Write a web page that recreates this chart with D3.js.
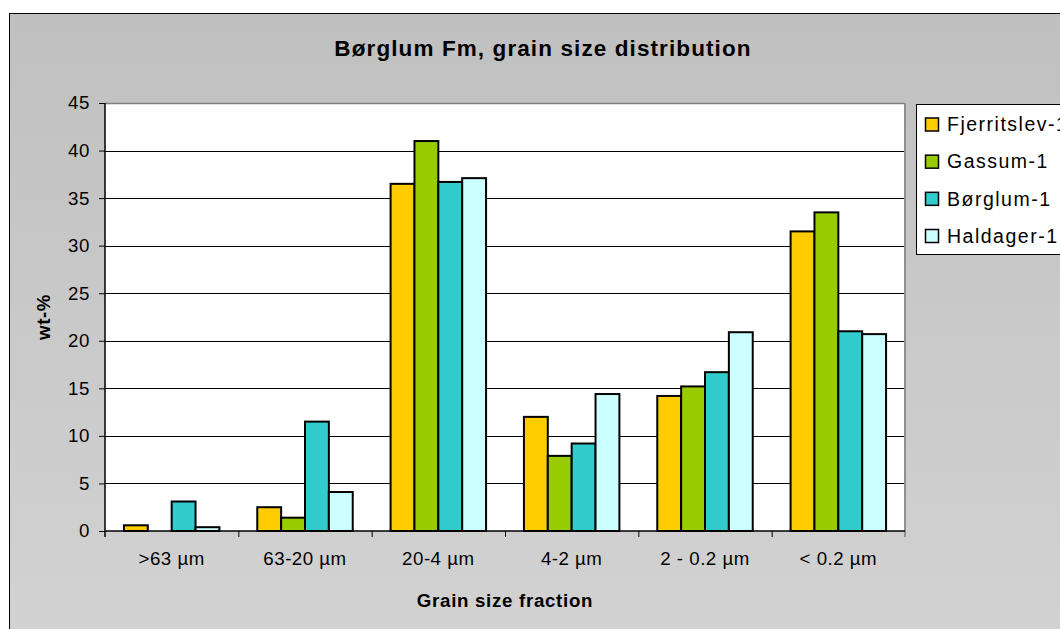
<!DOCTYPE html>
<html>
<head>
<meta charset="utf-8">
<script src="https://cdn.jsdelivr.net/npm/d3@7"></script>
<style>
  html, body { margin: 0; padding: 0; background: #ffffff; }
  svg { display: block; font-family: "Liberation Sans", Arial, sans-serif; }
</style>
</head>
<body>
<svg id="chart" width="1060" height="629"></svg>
<script>
// Grain size fractions (x categories)
const categories = [">63 µm", "63-20 µm", "20-4 µm", "4-2 µm", "2 - 0.2 µm", "< 0.2 µm"];

// Wells (series) and their colours
const seriesNames = ["Fjerritslev-1", "Gassum-1", "Børglum-1", "Haldager-1"];
const seriesColors = ["#FFCC00", "#99CC00", "#33CCCC", "#CCFFFF"];

// wt-% per fraction, one array per well
const fjerritslev = [0.6, 2.5, 36.5, 12.0, 14.2, 31.5];
const gassum      = [0.0, 1.4, 41.0, 7.9, 15.2, 33.5];
const borglum     = [3.1, 11.5, 36.7, 9.2, 16.7, 21.0];
const haldager    = [0.4, 4.1, 37.1, 14.4, 20.9, 20.7];

// Y axis ticks
const yTicks = [0, 5, 10, 15, 20, 25, 30, 35, 40, 45];

const seriesValues = [fjerritslev, gassum, borglum, haldager];

const svg = d3.select("#chart");
const W = 1060, H = 629;
const plot = { left: 105, right: 905, top: 103, bottom: 531 };

// Chart background with a soft vertical gradient
const defs = svg.append("defs");
const grad = defs.append("linearGradient")
  .attr("id", "bg").attr("x1", 0).attr("y1", 0).attr("x2", 0).attr("y2", 1);
grad.append("stop").attr("offset", "0%").attr("stop-color", "#c0c0c0");
grad.append("stop").attr("offset", "100%").attr("stop-color", "#d3d3d3");

svg.append("rect")
  .attr("x", 9.5).attr("y", 13.5)
  .attr("width", W + 20).attr("height", H + 20)
  .attr("fill", "url(#bg)")
  .attr("stroke", "#000").attr("stroke-width", 1);

// Scales
const x0 = d3.scaleBand()
  .domain(categories)
  .range([plot.left, plot.right])
  .paddingInner(0.284)
  .paddingOuter(0.142);

const x1 = d3.scaleBand()
  .domain(seriesNames)
  .range([0, x0.bandwidth()]);

const y = d3.scaleLinear()
  .domain([0, 45])
  .range([plot.bottom, plot.top]);

// Plot area
svg.append("rect")
  .attr("x", plot.left).attr("y", plot.top)
  .attr("width", plot.right - plot.left).attr("height", plot.bottom - plot.top)
  .attr("fill", "#ffffff");

// Gridlines
svg.append("g")
  .selectAll("line")
  .data(yTicks.filter(t => t > 0 && t < 45))
  .join("line")
  .attr("x1", plot.left).attr("x2", plot.right)
  .attr("y1", d => Math.round(y(d)) + 0.5).attr("y2", d => Math.round(y(d)) + 0.5)
  .attr("stroke", "#000").attr("stroke-width", 1);

// Plot frame (top and right)
svg.append("line")
  .attr("x1", plot.left).attr("x2", plot.right)
  .attr("y1", plot.top + 0.5).attr("y2", plot.top + 0.5)
  .attr("stroke", "#808080").attr("stroke-width", 1.5);
svg.append("line")
  .attr("x1", plot.right).attr("x2", plot.right)
  .attr("y1", plot.top).attr("y2", plot.bottom + 6)
  .attr("stroke", "#909090").attr("stroke-width", 2);

// Bars
const groups = svg.append("g")
  .selectAll("g")
  .data(categories)
  .join("g")
  .attr("transform", d => `translate(${x0(d)},0)`);

groups.selectAll("rect")
  .data((c, i) => seriesNames.map((s, k) => ({ s, k, v: seriesValues[k][i] })))
  .join("rect")
  .filter(d => d.v > 0)
  .attr("x", d => x1(d.s))
  .attr("y", d => y(d.v))
  .attr("width", x1.bandwidth())
  .attr("height", d => y(0) - y(d.v))
  .attr("fill", d => seriesColors[d.k])
  .attr("stroke", "#000")
  .attr("stroke-width", 2);

// Y axis
const yAxis = svg.append("g")
  .attr("transform", `translate(${plot.left},0)`)
  .call(d3.axisLeft(y).tickValues(yTicks).tickSize(6).tickPadding(9).tickSizeOuter(0));
yAxis.select(".domain").attr("stroke", "#000").attr("stroke-width", 1.5)
  .attr("d", `M0,${plot.top}V${plot.bottom + 6}`);
yAxis.selectAll(".tick line").attr("stroke", "#000");
yAxis.selectAll("text")
  .attr("font-size", "18.7px").attr("fill", "#000")
  .attr("font-family", "Liberation Sans, Arial, sans-serif")
  .style("letter-spacing", "0.6px");

// X axis: category boundary ticks
const xEdge = d3.scaleLinear().domain([0, categories.length]).range([plot.left, plot.right]);
const xAxisTicks = svg.append("g")
  .attr("transform", `translate(0,${plot.bottom})`)
  .call(d3.axisBottom(xEdge).tickValues(d3.range(1, categories.length)).tickSize(6).tickFormat(""));
xAxisTicks.select(".domain").attr("stroke", "#000").attr("stroke-width", 1.5)
  .attr("d", `M${plot.left},0H${plot.right}`);
xAxisTicks.selectAll(".tick line").attr("stroke", "#000");

// X axis: category labels
const xAxisLabels = svg.append("g")
  .attr("transform", `translate(0,${plot.bottom})`)
  .call(d3.axisBottom(x0).tickSize(0).tickPadding(21));
xAxisLabels.select(".domain").remove();
xAxisLabels.selectAll("text")
  .attr("font-size", "18.7px").attr("fill", "#000")
  .attr("font-family", "Liberation Sans, Arial, sans-serif")
  .style("letter-spacing", "0.5px");

// Title
svg.append("text")
  .attr("x", 543).attr("y", 56)
  .attr("text-anchor", "middle")
  .attr("font-size", "22.5px").attr("font-weight", "bold")
  .style("letter-spacing", "1.1px")
  .text("Børglum Fm, grain size distribution");

// Axis titles
svg.append("text")
  .attr("x", (plot.left + plot.right) / 2).attr("y", 607)
  .attr("text-anchor", "middle")
  .attr("font-size", "18.7px").attr("font-weight", "bold")
  .style("letter-spacing", "0.7px")
  .text("Grain size fraction");

svg.append("text")
  .attr("transform", `translate(50,${(plot.top + plot.bottom) / 2}) rotate(-90)`)
  .attr("text-anchor", "middle")
  .attr("font-size", "18.7px").attr("font-weight", "bold")
  .style("letter-spacing", "0.6px")
  .text("wt-%");

// Legend
const legend = svg.append("g");
legend.append("rect")
  .attr("x", 916.5).attr("y", 104.5)
  .attr("width", 200).attr("height", 150)
  .attr("fill", "#ffffff")
  .attr("stroke", "#000").attr("stroke-width", 1);

const rowY = d3.scalePoint().domain(seriesNames).range([124.5, 236]);
const items = legend.selectAll("g.item")
  .data(seriesNames)
  .join("g")
  .attr("class", "item")
  .attr("transform", d => `translate(0,${rowY(d)})`);
items.append("rect")
  .attr("x", 925.5).attr("y", -6.5)
  .attr("width", 13).attr("height", 13)
  .attr("fill", (d, i) => seriesColors[i])
  .attr("stroke", "#000").attr("stroke-width", 1.5);
items.append("text")
  .attr("x", 947).attr("y", 0)
  .attr("dy", "0.35em")
  .attr("font-size", "19.5px")
  .style("letter-spacing", "1.5px")
  .text(d => d);
</script>
</body>
</html>
